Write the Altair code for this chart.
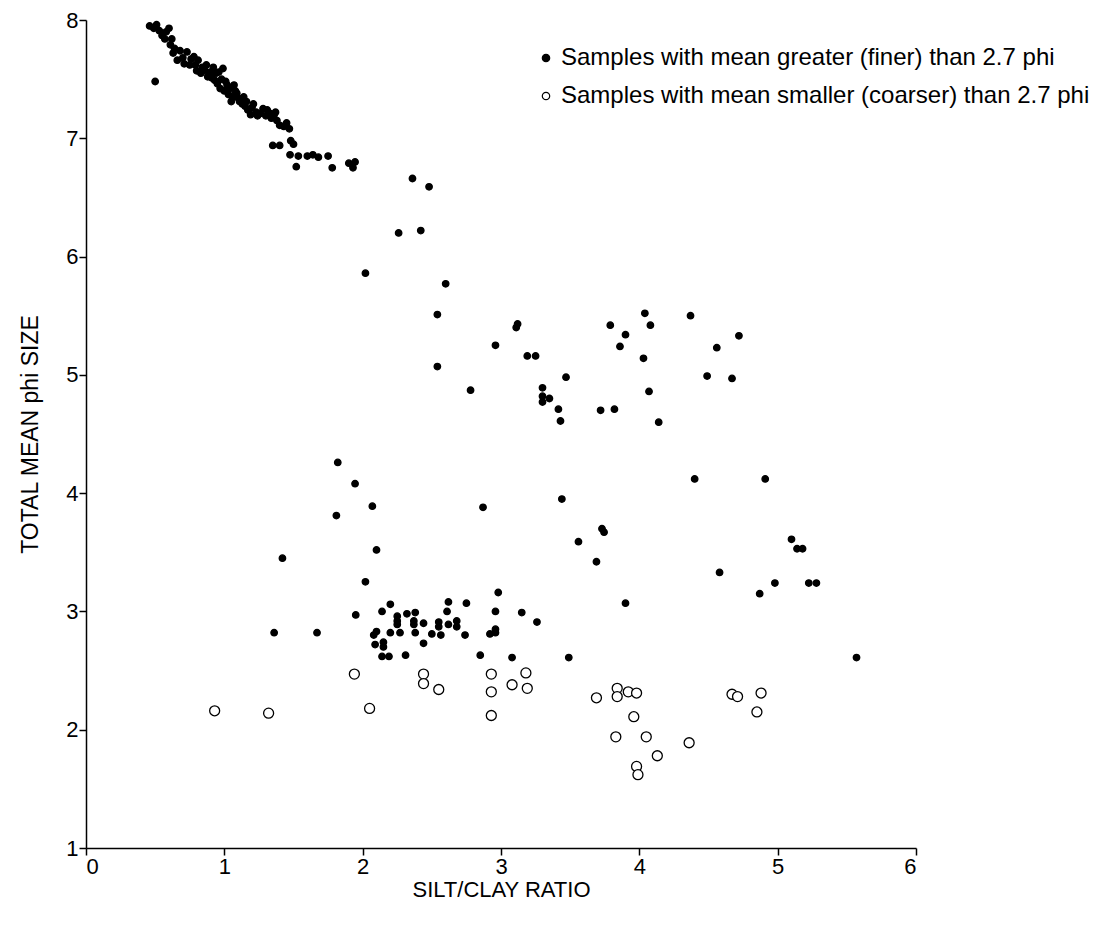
import altair as alt
import pandas as pd

FINE = "Samples with mean greater (finer) than  2.7 phi"
COARSE = "Samples with mean smaller (coarser) than 2.7 phi"

fine_x = [
    0.46, 0.51, 0.60, 0.55, 0.61, 0.64, 0.66, 0.73, 0.78, 0.75, 0.81, 0.84, 0.87, 0.92, 0.96, 0.99,
    0.91, 0.95, 0.97, 1.02, 1.07, 1.09, 1.05, 1.11, 1.16, 1.21, 1.19, 1.23, 1.28, 1.33, 1.37, 1.34,
    1.40, 1.45, 1.35, 1.40, 1.48, 1.50, 1.475, 1.535, 1.60, 1.64, 1.68, 1.75, 1.52, 1.78, 1.90, 1.945,
    1.93, 0.50,
    0.49, 0.53, 0.57, 0.58, 0.62, 0.63, 0.68, 0.70, 0.71, 0.76, 0.79, 0.80, 0.83, 0.86, 0.88, 0.90,
    0.93, 0.94, 0.98, 1.00, 1.01, 1.03, 1.04, 1.06, 1.08, 1.10, 1.13, 1.14, 1.15, 1.17, 1.20, 1.24,
    1.26, 1.30, 1.31, 1.36, 1.38, 1.43, 1.47,
    2.36, 2.48, 2.26, 2.42, 2.02, 2.60, 2.54, 2.54, 3.12, 3.11, 2.96, 3.19, 3.25, 2.78, 3.30, 3.30,
    3.30, 3.35, 3.47, 3.415, 3.43, 3.72, 3.82, 3.79, 4.04, 4.08, 3.90, 3.86, 4.03, 4.07, 4.14, 4.37,
    4.72, 4.56, 4.49, 4.67, 4.40, 4.91,
    1.82, 1.945, 1.81, 2.07, 2.10, 2.02, 1.95, 1.67, 1.36, 1.42, 2.87, 3.44, 3.56, 3.69, 2.98, 3.73,
    3.745, 3.90, 4.58, 4.87, 4.98, 5.10, 5.14, 5.18, 5.225, 5.28, 5.57,
    2.20, 2.14, 2.32, 2.38, 2.25, 2.25, 2.25, 2.37, 2.37, 2.44, 2.55, 2.55, 2.62, 2.68, 2.68, 2.62,
    2.75, 2.61, 2.96, 3.15, 3.26, 2.10, 2.08, 2.20, 2.27, 2.38, 2.50, 2.565, 2.74, 2.92, 2.96, 2.96,
    2.09, 2.15, 2.15, 2.44, 2.14, 2.19, 2.31, 2.85, 3.08, 3.49,
]
fine_y = [
    7.95, 7.96, 7.93, 7.87, 7.79, 7.76, 7.66, 7.73, 7.69, 7.62, 7.66, 7.60, 7.62, 7.60, 7.56, 7.59,
    7.51, 7.46, 7.42, 7.45, 7.45, 7.38, 7.31, 7.31, 7.31, 7.29, 7.20, 7.22, 7.25, 7.21, 7.22, 7.17,
    7.11, 7.13, 6.94, 6.94, 6.98, 6.95, 6.86, 6.85, 6.85, 6.86, 6.84, 6.85, 6.76, 6.75, 6.79, 6.80,
    6.75, 7.48,
    7.93, 7.91, 7.84, 7.90, 7.84, 7.72, 7.74, 7.68, 7.63, 7.67, 7.62, 7.57, 7.55, 7.57, 7.52, 7.56,
    7.49, 7.55, 7.50, 7.40, 7.48, 7.37, 7.42, 7.35, 7.40, 7.34, 7.29, 7.35, 7.27, 7.24, 7.26, 7.19,
    7.21, 7.19, 7.24, 7.20, 7.15, 7.10, 7.08,
    6.66, 6.59, 6.20, 6.22, 5.86, 5.77, 5.51, 5.07, 5.43, 5.40, 5.25, 5.16, 5.16, 4.87, 4.89, 4.82,
    4.77, 4.80, 4.98, 4.71, 4.61, 4.70, 4.71, 5.42, 5.52, 5.42, 5.34, 5.24, 5.14, 4.86, 4.60, 5.50,
    5.33, 5.23, 4.99, 4.97, 4.12, 4.12,
    4.26, 4.08, 3.81, 3.89, 3.52, 3.25, 2.97, 2.82, 2.82, 3.45, 3.88, 3.95, 3.59, 3.42, 3.16, 3.70,
    3.67, 3.07, 3.33, 3.15, 3.24, 3.61, 3.53, 3.53, 3.24, 3.24, 2.61,
    3.06, 3.00, 2.98, 2.99, 2.96, 2.92, 2.89, 2.92, 2.89, 2.90, 2.91, 2.87, 2.89, 2.92, 2.87, 3.08,
    3.07, 3.00, 3.00, 2.99, 2.91, 2.83, 2.80, 2.82, 2.82, 2.82, 2.81, 2.80, 2.80, 2.81, 2.85, 2.82,
    2.72, 2.74, 2.70, 2.73, 2.62, 2.62, 2.63, 2.63, 2.61, 2.61,
]

coarse_x = [
    0.93, 1.32, 1.94, 2.05, 2.44, 2.44, 2.55, 2.93, 2.93, 2.93, 3.08, 3.18, 3.19, 3.69, 3.84, 3.84,
    3.92, 3.98, 3.96, 3.83, 4.05, 4.36, 4.13, 3.98, 3.99, 4.67, 4.71, 4.88, 4.85,
]
coarse_y = [
    2.16, 2.14, 2.47, 2.18, 2.47, 2.39, 2.34, 2.47, 2.32, 2.12, 2.38, 2.48, 2.35, 2.27, 2.35, 2.28,
    2.32, 2.31, 2.11, 1.94, 1.94, 1.89, 1.78, 1.69, 1.62, 2.30, 2.28, 2.31, 2.15,
]

df = pd.concat([
    pd.DataFrame({"ratio": fine_x, "phi": fine_y, "group": FINE, "kind": "fine"}),
    pd.DataFrame({"ratio": coarse_x, "phi": coarse_y, "group": COARSE, "kind": "coarse"}),
])

FONT = "Liberation Sans"

axis_style = dict(
    grid=False, format="d", domainColor="black", tickColor="black",
    labelColor="black", titleColor="black", labelFont=FONT, titleFont=FONT,
    labelFontSize=22, titleFontWeight="normal",
    tickSize=7, labelPadding=1, domainWidth=1.5, tickWidth=1.5,
)

chart = alt.Chart(df).mark_point(filled=True, shape="circle", strokeWidth=1.3, opacity=1).encode(
    x=alt.X("ratio:Q", scale=alt.Scale(domain=[0, 6], nice=False, zero=False),
            axis=alt.Axis(values=[0, 1, 2, 3, 4, 5, 6], title="SILT/CLAY RATIO",
                          titleFontSize=22, titlePadding=2, **axis_style)),
    y=alt.Y("phi:Q", scale=alt.Scale(domain=[1, 8], nice=False, zero=False),
            axis=alt.Axis(values=[1, 2, 3, 4, 5, 6, 7, 8], title="TOTAL MEAN phi SIZE",
                          titleFontSize=23, titlePadding=23, **axis_style)),
    fill=alt.Fill("group:N", scale=alt.Scale(domain=[FINE, COARSE], range=["black", "white"]),
                  legend=alt.Legend(title=None, orient="none", legendX=448, legendY=26,
                                    symbolType="circle", symbolSize=55,
                                    symbolStrokeColor="black", symbolStrokeWidth=1.2,
                                    labelFontSize=24, labelFont=FONT, labelColor="black",
                                    labelLimit=700, rowPadding=14, labelOffset=3)),
    stroke=alt.value("black"),
    size=alt.Size("kind:N", scale=alt.Scale(domain=["fine", "coarse"], range=[42, 100]), legend=None),
).properties(
    width=830, height=828,
    autosize=alt.AutoSizeParams(type="none"),
    padding={"left": 78, "top": 12, "right": 196, "bottom": 78},
).configure_view(stroke=None)

chart.save("out.html", embed_options={"renderer": "svg", "actions": False})
